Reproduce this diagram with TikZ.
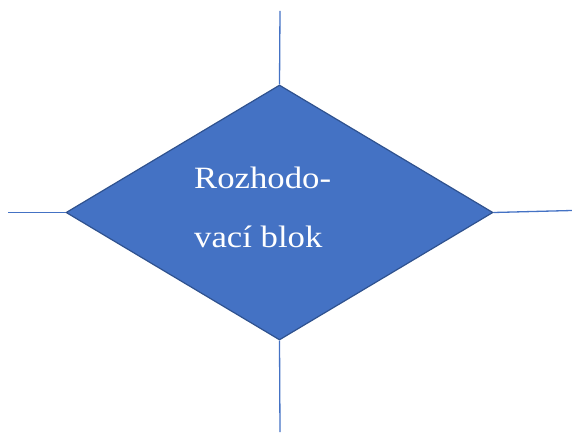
\documentclass[tikz,border=0pt]{standalone}
\usepackage{fontspec}
\setmainfont[FakeStretch=1.12]{Liberation Serif}
\usetikzlibrary{shapes.geometric}
\definecolor{blockfill}{HTML}{4472C4}
\definecolor{blockedge}{HTML}{2F528F}
\definecolor{wire}{HTML}{4472C4}
\tikzset{
  decision/.style={diamond, fill=blockfill, draw=blockedge, line width=1.2pt,
    minimum width=427pt, minimum height=255pt, inner sep=0pt, aspect=1.67},
  label text/.style={text=white, font=\fontsize{31}{59}\selectfont, align=left, anchor=north west, inner sep=0pt},
  wireline/.style={draw=wire, line width=1.3pt}
}
\begin{document}
\begin{tikzpicture}[x=1pt,y=-1pt]
  \useasboundingbox (0,0) rectangle (572,435);
  \node[decision] (blk) at (279.5,212.5) {};
  \node[label text] (txt) at (194,167) {Rozhodo-\\vací blok};
  \coordinate (inTop) at (280,11);
  \coordinate (outLeft) at (8,212.5);
  \coordinate (outRight) at (572,210.5);
  \coordinate (outBottom) at (280,432);
  \draw[wireline] (inTop) -- (blk.north);
  \draw[wireline] (outLeft) -- (blk.west);
  \draw[wireline] (blk.east) -- (outRight);
  \draw[wireline] (blk.south) -- (outBottom);
\end{tikzpicture}
\end{document}
